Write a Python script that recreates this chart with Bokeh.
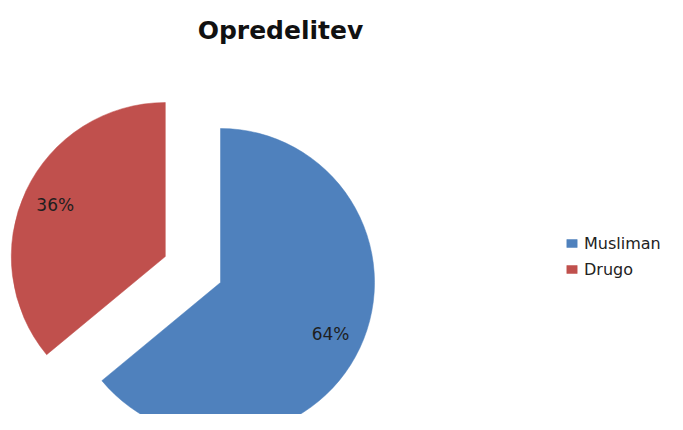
import math
from bokeh.plotting import figure
from bokeh.models import ColumnDataSource, Range1d, Label, Legend, LegendItem
from bokeh.core.properties import value
from bokeh.embed import file_html
from bokeh.resources import INLINE

# ---- data ----
title_text = "Opredelitev"
categories = ["Musliman", "Drugo"]
values = [64, 36]
colors = ["#4F81BD", "#C0504D"]
exploded = [False, True]

# ---- layout (pixel-like data units) ----
W, H = 667, 414
cx, cy = 220, 132          # centre of pie (frame coords)
R = 154
explode_dist = 61
label_frac = 0.79
FONT = "DejaVu Sans"

total = float(sum(values))
starts, ends, xs, ys, lx, ly, texts = [], [], [], [], [], [], []
angle = math.pi / 2  # start at 12 o'clock, go clockwise
for v, ex in zip(values, exploded):
    sweep = 2 * math.pi * v / total
    end = angle
    start = angle - sweep
    mid = (start + end) / 2
    d = explode_dist if ex else 0
    x0 = cx + d * math.cos(mid)
    y0 = cy + d * math.sin(mid)
    starts.append(start); ends.append(end)
    xs.append(x0); ys.append(y0)
    lx.append(x0 + label_frac * R * math.cos(mid))
    ly.append(y0 + label_frac * R * math.sin(mid))
    texts.append(f"{round(100 * v / total)}%")
    angle = start

src = ColumnDataSource(dict(x=xs, y=ys, start=starts, end=ends, color=colors,
                            name=categories, lx=lx, ly=ly, txt=texts))

p = figure(width=W, height=H, output_backend="svg", toolbar_location=None,
           x_range=Range1d(0, W), y_range=Range1d(0, H), min_border=0,
           outline_line_color=None, background_fill_color="white",
           border_fill_color="white")
p.axis.visible = False
p.grid.visible = False

w = p.wedge(x="x", y="y", radius=R, start_angle="start", end_angle="end",
            fill_color="color", line_color="color", line_width=0.5, source=src)

p.text(x="lx", y="ly", text="txt", source=src, text_align="center",
       text_baseline="middle", text_font=value(FONT), text_font_size="17px",
       text_color="#1e1e1e")

title = Label(x=280, y=H - 30, x_units="screen", y_units="screen", text=title_text,
              text_align="center", text_baseline="middle", text_font=FONT,
              text_font_size="25px", text_font_style="bold", text_color="#111111")
p.add_layout(title)

items = [LegendItem(label=categories[i], renderers=[w], index=i) for i in range(len(categories))]
leg = Legend(items=items, location=(565, 135), orientation="vertical",
             glyph_width=13, glyph_height=10, label_height=20, spacing=6,
             padding=0, margin=0, label_standoff=6,
             label_text_font=FONT, label_text_font_size="16px",
             label_text_color="#222222", border_line_color=None,
             background_fill_alpha=0)
p.add_layout(leg, "center")

open("out.html", "w").write(file_html(p, INLINE))
